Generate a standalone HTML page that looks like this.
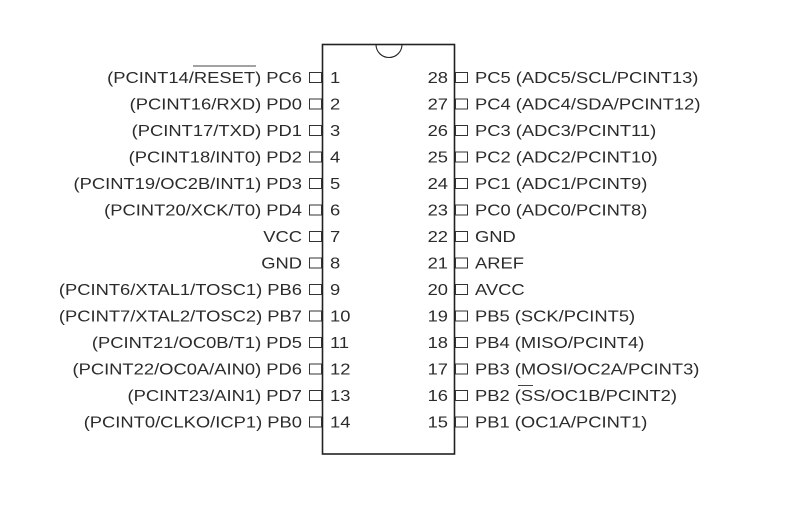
<!DOCTYPE html>
<html><head><meta charset="utf-8"><style>
html,body{margin:0;padding:0;background:#fff;}
svg text{font-family:"Liberation Sans",sans-serif;font-size:15.5px;fill:#2b2b2b;}
</style></head><body>
<svg width="800" height="515" viewBox="0 0 800 515" xmlns="http://www.w3.org/2000/svg">
<rect x="322.5" y="44.5" width="132" height="409.5" fill="none" stroke="#222" stroke-width="1.6"/>
<path d="M376,44.5 A13,13 0 0 0 402,44.5" fill="none" stroke="#222" stroke-width="1.1"/>
<g fill="none" stroke="#333" stroke-width="1">
<rect x="309.5" y="72.5" width="12" height="10"/><rect x="455.5" y="72.5" width="12" height="10"/>
<rect x="309.5" y="99" width="12" height="10"/><rect x="455.5" y="99" width="12" height="10"/>
<rect x="309.5" y="125.5" width="12" height="10"/><rect x="455.5" y="125.5" width="12" height="10"/>
<rect x="309.5" y="152" width="12" height="10"/><rect x="455.5" y="152" width="12" height="10"/>
<rect x="309.5" y="178.5" width="12" height="10"/><rect x="455.5" y="178.5" width="12" height="10"/>
<rect x="309.5" y="205" width="12" height="10"/><rect x="455.5" y="205" width="12" height="10"/>
<rect x="309.5" y="231.5" width="12" height="10"/><rect x="455.5" y="231.5" width="12" height="10"/>
<rect x="309.5" y="258" width="12" height="10"/><rect x="455.5" y="258" width="12" height="10"/>
<rect x="309.5" y="284.5" width="12" height="10"/><rect x="455.5" y="284.5" width="12" height="10"/>
<rect x="309.5" y="311" width="12" height="10"/><rect x="455.5" y="311" width="12" height="10"/>
<rect x="309.5" y="337.5" width="12" height="10"/><rect x="455.5" y="337.5" width="12" height="10"/>
<rect x="309.5" y="364" width="12" height="10"/><rect x="455.5" y="364" width="12" height="10"/>
<rect x="309.5" y="390.5" width="12" height="10"/><rect x="455.5" y="390.5" width="12" height="10"/>
<rect x="309.5" y="417" width="12" height="10"/><rect x="455.5" y="417" width="12" height="10"/>
</g>
<g text-anchor="end" transform="translate(302,0) scale(1.185,1)">
<text x="0" y="83">(PCINT14/RESET) PC6</text>
<text x="0" y="109.5">(PCINT16/RXD) PD0</text>
<text x="0" y="136">(PCINT17/TXD) PD1</text>
<text x="0" y="162.5">(PCINT18/INT0) PD2</text>
<text x="0" y="189">(PCINT19/OC2B/INT1) PD3</text>
<text x="0" y="215.5">(PCINT20/XCK/T0) PD4</text>
<text x="0" y="242">VCC</text>
<text x="0" y="268.5">GND</text>
<text x="0" y="295">(PCINT6/XTAL1/TOSC1) PB6</text>
<text x="0" y="321.5">(PCINT7/XTAL2/TOSC2) PB7</text>
<text x="0" y="348">(PCINT21/OC0B/T1) PD5</text>
<text x="0" y="374.5">(PCINT22/OC0A/AIN0) PD6</text>
<text x="0" y="401">(PCINT23/AIN1) PD7</text>
<text x="0" y="427.5">(PCINT0/CLKO/ICP1) PB0</text>
</g>
<g text-anchor="end" transform="translate(448,0) scale(1.185,1)">
<text x="0" y="83">28</text>
<text x="0" y="109.5">27</text>
<text x="0" y="136">26</text>
<text x="0" y="162.5">25</text>
<text x="0" y="189">24</text>
<text x="0" y="215.5">23</text>
<text x="0" y="242">22</text>
<text x="0" y="268.5">21</text>
<text x="0" y="295">20</text>
<text x="0" y="321.5">19</text>
<text x="0" y="348">18</text>
<text x="0" y="374.5">17</text>
<text x="0" y="401">16</text>
<text x="0" y="427.5">15</text>
</g>
<g transform="translate(330,0) scale(1.185,1)">
<text x="0" y="83">1</text>
<text x="0" y="109.5">2</text>
<text x="0" y="136">3</text>
<text x="0" y="162.5">4</text>
<text x="0" y="189">5</text>
<text x="0" y="215.5">6</text>
<text x="0" y="242">7</text>
<text x="0" y="268.5">8</text>
<text x="0" y="295">9</text>
<text x="0" y="321.5">10</text>
<text x="0" y="348">11</text>
<text x="0" y="374.5">12</text>
<text x="0" y="401">13</text>
<text x="0" y="427.5">14</text>
</g>
<g transform="translate(475,0) scale(1.185,1)">
<text x="0" y="83">PC5 (ADC5/SCL/PCINT13)</text>
<text x="0" y="109.5">PC4 (ADC4/SDA/PCINT12)</text>
<text x="0" y="136">PC3 (ADC3/PCINT11)</text>
<text x="0" y="162.5">PC2 (ADC2/PCINT10)</text>
<text x="0" y="189">PC1 (ADC1/PCINT9)</text>
<text x="0" y="215.5">PC0 (ADC0/PCINT8)</text>
<text x="0" y="242">GND</text>
<text x="0" y="268.5">AREF</text>
<text x="0" y="295">AVCC</text>
<text x="0" y="321.5">PB5 (SCK/PCINT5)</text>
<text x="0" y="348">PB4 (MISO/PCINT4)</text>
<text x="0" y="374.5">PB3 (MOSI/OC2A/PCINT3)</text>
<text x="0" y="401">PB2 (SS/OC1B/PCINT2)</text>
<text x="0" y="427.5">PB1 (OC1A/PCINT1)</text>
</g>
<line x1="193" y1="66" x2="256" y2="66" stroke="#444" stroke-width="1"/>
<line x1="518" y1="385.5" x2="533" y2="385.5" stroke="#444" stroke-width="1"/>
</svg>
</body></html>
